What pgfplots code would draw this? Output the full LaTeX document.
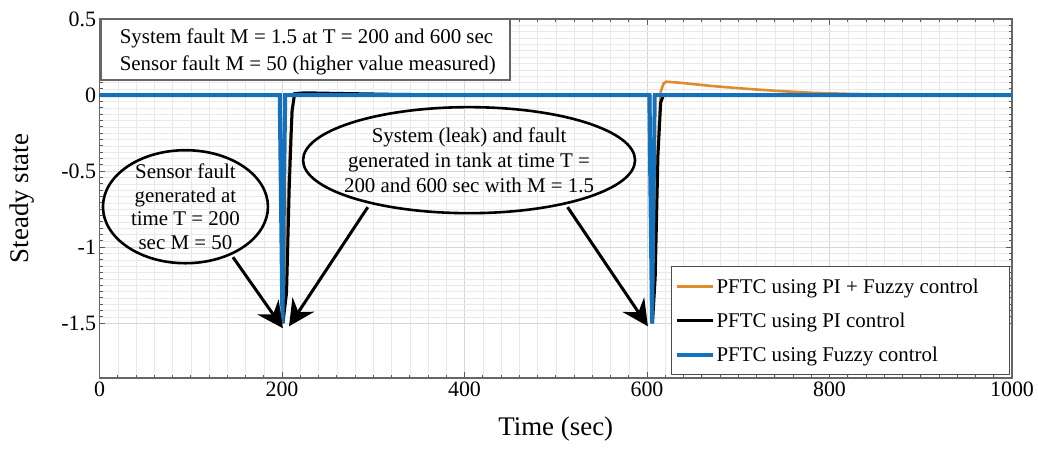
\documentclass[border=0pt]{standalone}
\usepackage{fontspec}
\setmainfont{Liberation Serif}
\usepackage{pgfplots}
\pgfplotsset{compat=1.18}
\usetikzlibrary{arrows.meta}
\definecolor{mblue}{RGB}{20,114,189}
\definecolor{morange}{RGB}{222,140,45}
\definecolor{gridmaj}{RGB}{215,215,215}
\definecolor{gridmin}{RGB}{233,233,233}
\begin{document}
\begin{tikzpicture}
\begin{axis}[
  name=ax, scale only axis,
  width=912.5bp, height=359bp,
  xmin=0, xmax=1000, ymin=-1.86, ymax=0.5,
  xtick={0,200,...,1000}, ytick={-1.5,-1,-0.5,0,0.5},
  minor x tick num=9, minor y tick num=11,
  grid=both,
  major grid style={gridmaj, line width=0.5bp},
  minor grid style={gridmin, line width=0.4bp},
  tick align=inside,
  major tick length=6bp, minor tick length=3.5bp,
  every tick/.style={black!65, line width=0.8bp},
  axis line style={black!60, line width=1.3bp},
  tick label style={font=\fontsize{22}{26}\selectfont},
  /pgf/number format/assume math mode=true,
  /pgf/number format/1000 sep={},
  xlabel={Time (sec)}, ylabel={Steady state},
  label style={font=\fontsize{27}{32}\selectfont},
  ylabel shift=20bp, xlabel shift=14bp,
  legend style={at={(rel axis cs:0.998,0.008)}, anchor=south east,
    draw=black!70, line width=0.8bp, fill=white,
    font=\fontsize{21}{25}\selectfont, row sep=14bp,
    inner xsep=3bp, inner ysep=10bp},
  legend cell align=left,
  legend image code/.code={\draw[#1] (0bp,0bp) -- (36bp,0bp);},
]
% orange: PI + Fuzzy
\addplot[morange, line width=2.6bp] coordinates {
(0,0)(198,0)(201,-1.5)(205,-0.9)(209,-0.3)(213,0)(603,0)(606,-1.5)(609,-0.9)(612,-0.3)
(615,0.02)(618,0.075)(621,0.088)(636,0.081)(672,0.059)(709,0.041)(746,0.026)
(780,0.015)(820,0.008)(870,0.003)(920,0.001)(1000,0)
};
\addlegendentry{PFTC using PI + Fuzzy control\rule{26bp}{0pt}}
% black: PI
\addplot[black, line width=3bp] coordinates {
(0,0)(198,0)(201,-1.5)(205,-1.3)(208,-0.6)(211,-0.1)(214,0.01)(225,0.015)
(260,0.011)(320,0.005)(400,0)(603,0)(606,-1.5)(609,-1.2)(612,-0.4)(615,-0.05)(618,0)(1000,0)
};
\addlegendentry{PFTC using PI control}
% blue: Fuzzy
\addplot[mblue, line width=4bp] coordinates {
(0,0)(197.5,0)(200.5,-1.5)(203.5,0)(602.5,0)(605.5,-1.5)(608.5,0)(1000,0)
};
\addlegendentry{PFTC using Fuzzy control}

% text box
\draw[black!60, fill=white, line width=1.2bp] (axis cs:1.6,0.0987) rectangle (axis cs:449.9,0.5);
\node[anchor=west, align=left, font=\fontsize{21}{27}\selectfont, inner sep=0pt]
  at (axis cs:22,0.286) {System fault M = 1.5 at T = 200 and 600 sec\\Sensor fault M = 50 (higher value measured)};

% callouts
\draw[line width=2.6bp] (axis cs:94.2,-0.734) ellipse [x radius=82.5bp, y radius=56.5bp];
\node[align=center, font=\fontsize{21}{24}\selectfont] at (axis cs:94.2,-0.734)
  {Sensor fault\\generated at\\time T = 200\\sec M = 50};
\draw[line width=2.6bp] (axis cs:405,-0.428) ellipse [x radius=166bp, y radius=53bp];
\node[align=center, font=\fontsize{21}{25}\selectfont] at (axis cs:405,-0.428)
  {System (leak) and fault\\generated in tank at time T =\\200 and 600 sec with M = 1.5};
\draw[line width=3bp, -{Stealth[length=26bp, width=26bp, inset=9bp]}]
  (axis cs:146.3,-1.066) -- (axis cs:201,-1.533);
\draw[line width=3bp, -{Stealth[length=26bp, width=26bp, inset=9bp]}]
  (axis cs:294,-0.737) -- (axis cs:207.7,-1.52);
\draw[line width=3bp, -{Stealth[length=26bp, width=26bp, inset=9bp]}]
  (axis cs:513,-0.737) -- (axis cs:601,-1.52);
\end{axis}
\pgfresetboundingbox
\path[use as bounding box] (ax.south west) ++(-99.5bp,-83bp) rectangle ++(1038bp,461bp);
\end{tikzpicture}
\end{document}
